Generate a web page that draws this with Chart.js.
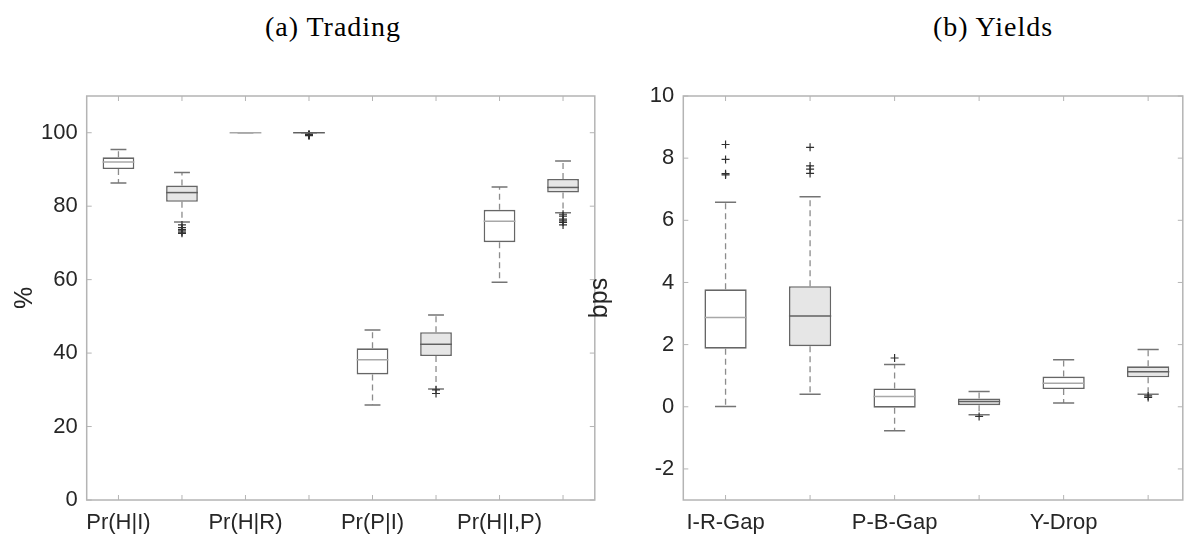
<!DOCTYPE html>
<html>
<head>
<meta charset="utf-8">
<script src="https://cdn.jsdelivr.net/npm/chart.js"></script>
<style>
  html, body { margin: 0; padding: 0; background: #fff; overflow: hidden; }
  body { width: 1188px; height: 540px; position: relative; }
  canvas { position: absolute; top: 0; }
  #trading { left: 0; }
  #yields { left: 570px; }
  .panel-title {
    position: absolute; top: 27px; transform: translate(-50%, -50%);
    font-family: "Liberation Serif", "DejaVu Serif", serif; font-size: 28px;
    letter-spacing: 1px; color: #000; white-space: nowrap;
  }
</style>
</head>
<body>
<div class="panel-title" style="left:333px">(a) Trading</div>
<div class="panel-title" style="left:993px">(b) Yields</div>
<canvas id="trading" width="600" height="540"></canvas>
<canvas id="yields" width="618" height="540"></canvas>
<script>
// Panel (a): trading probabilities, in %
const tradingLabels   = ['Pr(H|I)', '', 'Pr(H|R)', '', 'Pr(P|I)', '', 'Pr(H|I,P)', ''];
const tradingLow      = [86.3, 75.7, 100, 100, 25.9, 30.2, 59.3, 78.2];
const tradingQ1       = [90.1, 81.2, 100, 100, 34.2, 39.2, 70.2, 83.7];
const tradingMedian   = [92.0, 83.7, 100, 100, 38.2, 42.4, 75.9, 85.1];
const tradingQ3       = [93.3, 85.6, 100, 100, 41.3, 45.7, 79.0, 87.4];
const tradingHigh     = [95.4, 89.2, 100, 100, 46.3, 50.4, 85.2, 92.3];
const tradingOutliers = [
  [],
  [74.9, 74.2, 73.7, 73.3, 72.9, 72.6],
  [],
  [99.6, 99.5, 99.4, 99.35, 99.3, 99.2],
  [],
  [30.0, 29.0],
  [],
  [77.8, 77.3, 76.5, 76.0, 75.6, 74.9]
];
const tradingTicks = [0, 20, 40, 60, 80, 100];

// Panel (b): yields, in bps
const yieldLabels   = ['I-R-Gap', '', 'P-B-Gap', '', 'Y-Drop', ''];
const yieldLow      = [0.01, 0.40, -0.77, -0.26, 0.12, 0.40];
const yieldQ1       = [1.87, 1.95, -0.03, 0.05, 0.57, 0.95];
const yieldMedian   = [2.87, 2.92, 0.33, 0.17, 0.76, 1.13];
const yieldQ3       = [3.78, 3.88, 0.59, 0.27, 0.97, 1.30];
const yieldHigh     = [6.58, 6.76, 1.36, 0.49, 1.51, 1.84];
const yieldOutliers = [
  [8.44, 7.96, 7.50, 7.46],
  [8.35, 7.75, 7.65, 7.51],
  [1.57],
  [-0.31],
  [],
  [0.35, 0.30]
];
const yieldTicks = [-2, 0, 2, 4, 6, 8, 10];

const AXIS = '#b4b4b4';
const TEXT = '#262626';
const BOX_LINE = '#666666';
const WHITE_FILL = '#ffffff';
const GREY_FILL = '#e6e6e6';

// whiskers + caps under the boxes, medians on top, frame with inward ticks
function boxPlugin(low, high, median) {
  return {
    id: 'boxes',
    beforeDatasetsDraw(chart) {
      const { ctx, scales: { y } } = chart;
      const bars = chart.getDatasetMeta(0).data;
      ctx.save();
      bars.forEach((bar, i) => {
        const half = bar.width / 4;
        const yLow = y.getPixelForValue(low[i]);
        const yHigh = y.getPixelForValue(high[i]);
        const yQ1 = y.getPixelForValue(chart.data.datasets[0].data[i].y[0]);
        const yQ3 = y.getPixelForValue(chart.data.datasets[0].data[i].y[1]);
        ctx.strokeStyle = '#8c8c8c';
        ctx.lineWidth = 1.3;
        ctx.setLineDash([6, 4]);
        ctx.beginPath();
        ctx.moveTo(bar.x, yQ3); ctx.lineTo(bar.x, yHigh);
        ctx.moveTo(bar.x, yQ1); ctx.lineTo(bar.x, yLow);
        ctx.stroke();
        ctx.setLineDash([]);
        ctx.strokeStyle = '#747474';
        ctx.lineWidth = 1.5;
        ctx.beginPath();
        ctx.moveTo(bar.x - half, yHigh); ctx.lineTo(bar.x + half, yHigh);
        ctx.moveTo(bar.x - half, yLow); ctx.lineTo(bar.x + half, yLow);
        ctx.stroke();
      });
      ctx.restore();
    },
    afterDatasetsDraw(chart) {
      const { ctx, chartArea: a, scales: { x, y } } = chart;
      const bars = chart.getDatasetMeta(0).data;
      ctx.save();
      bars.forEach((bar, i) => {
        const ym = y.getPixelForValue(median[i]);
        ctx.strokeStyle = i % 2 === 0 ? '#a8a8a8' : '#606060';
        ctx.lineWidth = 1.5;
        ctx.beginPath();
        ctx.moveTo(bar.x - bar.width / 2, ym);
        ctx.lineTo(bar.x + bar.width / 2, ym);
        ctx.stroke();
      });
      ctx.strokeStyle = AXIS;
      ctx.lineWidth = 1.5;
      ctx.strokeRect(a.left, a.top, a.right - a.left, a.bottom - a.top);
      ctx.lineWidth = 1;
      ctx.beginPath();
      x.ticks.forEach(t => {
        const px = x.getPixelForValue(t.value);
        ctx.moveTo(px, a.bottom); ctx.lineTo(px, a.bottom - 5);
        ctx.moveTo(px, a.top); ctx.lineTo(px, a.top + 5);
      });
      y.ticks.forEach(t => {
        const py = y.getPixelForValue(t.value);
        ctx.moveTo(a.left, py); ctx.lineTo(a.left + 5, py);
        ctx.moveTo(a.right, py); ctx.lineTo(a.right - 5, py);
      });
      ctx.stroke();
      ctx.restore();
    }
  };
}

function makeBoxChart(id, o) {
  const fills = o.labels.map((_, i) => i % 2 === 0 ? WHITE_FILL : GREY_FILL);
  const outlierPts = [];
  o.outliers.forEach((list, i) => list.forEach(v => outlierPts.push({ x: i + 1, y: v })));
  return new Chart(document.getElementById(id), {
    type: 'bar',
    data: {
      datasets: [{
        data: o.q1.map((q, i) => ({ x: i + 1, y: [q, o.q3[i]] })),
        backgroundColor: fills,
        borderColor: BOX_LINE,
        borderWidth: 1.6,
        borderSkipped: false,
        barPercentage: 0.5,
        categoryPercentage: 1
      }, {
        type: 'scatter',
        data: outlierPts,
        pointStyle: 'cross',
        radius: 4,
        borderColor: '#303030',
        borderWidth: 1.2
      }]
    },
    options: {
      responsive: false,
      animation: false,
      layout: { padding: { top: 96, right: o.padRight, left: 0, bottom: 0 } },
      plugins: { legend: { display: false }, tooltip: { enabled: false } },
      scales: {
        x: {
          type: 'linear',
          offset: false,
          min: 0.5,
          max: o.xMax,
          grid: { display: false, drawTicks: false },
          border: { display: false },
          afterBuildTicks: s => { s.ticks = o.labels.map((_, i) => ({ value: i + 1 })); },
          afterFit: s => { s.height = 40; },
          ticks: {
            autoSkip: false, maxRotation: 0, padding: 10, color: TEXT,
            font: { family: 'Liberation Sans, Arial, sans-serif', size: 22 },
            callback: v => o.labels[v - 1] || ''
          }
        },
        y: {
          min: o.yMin,
          max: o.yMax,
          grid: { display: false, drawTicks: false },
          border: { display: false },
          afterBuildTicks: s => { s.ticks = o.ticks.map(v => ({ value: v })); },
          afterFit: s => { s.width = o.yWidth; },
          title: {
            display: true, text: o.title, color: TEXT,
            padding: { top: o.titlePad, bottom: 0 },
            font: { family: 'Liberation Sans, Arial, sans-serif', size: 25 }
          },
          ticks: {
            padding: 9, color: TEXT,
            font: { family: 'Liberation Sans, Arial, sans-serif', size: 22 }
          }
        }
      }
    },
    plugins: [boxPlugin(o.low, o.high, o.median)]
  });
}

makeBoxChart('trading', {
  labels: tradingLabels, low: tradingLow, q1: tradingQ1, median: tradingMedian,
  q3: tradingQ3, high: tradingHigh, outliers: tradingOutliers, ticks: tradingTicks,
  yMin: 0, yMax: 110, xMax: 8.5, title: '%', yWidth: 86.7, padRight: 2, titlePad: 10
});

makeBoxChart('yields', {
  labels: yieldLabels, low: yieldLow, q1: yieldQ1, median: yieldMedian,
  q3: yieldQ3, high: yieldHigh, outliers: yieldOutliers, ticks: yieldTicks,
  yMin: -3, yMax: 10, xMax: 6.41, title: 'bps', yWidth: 113.3, padRight: 1, titlePad: 15
});
</script>
</body>
</html>
